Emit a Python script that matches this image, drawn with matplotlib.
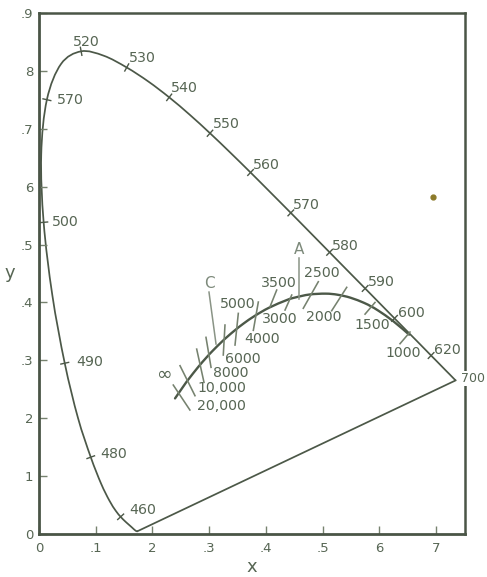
import numpy as np
import matplotlib
matplotlib.use("Agg")
import matplotlib.pyplot as plt
from matplotlib.path import Path
from matplotlib.patches import PathPatch

# ---- spectral locus (CIE 1931 x, y) ----
spec_nm = [380, 385, 390, 395, 400, 405, 410, 415, 420, 425, 430, 435, 440, 445, 450, 455,
           460, 465, 470, 475, 480, 485, 490, 495, 500, 505, 510, 515, 520, 525, 530, 535,
           540, 545, 550, 555, 560, 565, 570, 575, 580, 585, 590, 595, 600, 605, 610, 615,
           620, 625, 630, 635, 640, 645, 650, 655, 660, 665, 670, 675, 680, 685, 690, 695, 700]
spec_x = [0.1741, 0.1740, 0.1738, 0.1736, 0.1733, 0.1730, 0.1726, 0.1721, 0.1714, 0.1703, 0.1689,
          0.1669, 0.1644, 0.1611, 0.1566, 0.1510, 0.1440, 0.1355, 0.1241, 0.1096, 0.0913, 0.0687,
          0.0454, 0.0235, 0.0082, 0.0039, 0.0139, 0.0389, 0.0743, 0.1142, 0.1547, 0.1929, 0.2296,
          0.2658, 0.3016, 0.3373, 0.3731, 0.4087, 0.4441, 0.4788, 0.5125, 0.5448, 0.5752, 0.6029,
          0.6270, 0.6482, 0.6658, 0.6801, 0.6915, 0.7006, 0.7079, 0.7140, 0.7190, 0.7230, 0.7260,
          0.7283, 0.7300, 0.7311, 0.7320, 0.7327, 0.7334, 0.7340, 0.7344, 0.7346, 0.7347]
spec_y = [0.0050, 0.0050, 0.0049, 0.0049, 0.0048, 0.0048, 0.0048, 0.0048, 0.0051, 0.0058, 0.0069,
          0.0086, 0.0109, 0.0138, 0.0177, 0.0227, 0.0297, 0.0399, 0.0578, 0.0868, 0.1327, 0.2007,
          0.2950, 0.4127, 0.5384, 0.6548, 0.7502, 0.8120, 0.8338, 0.8262, 0.8059, 0.7816, 0.7543,
          0.7243, 0.6923, 0.6589, 0.6245, 0.5896, 0.5547, 0.5202, 0.4866, 0.4544, 0.4242, 0.3965,
          0.3725, 0.3514, 0.3340, 0.3197, 0.3083, 0.2993, 0.2920, 0.2859, 0.2809, 0.2770, 0.2740,
          0.2717, 0.2700, 0.2689, 0.2680, 0.2673, 0.2666, 0.2660, 0.2656, 0.2654, 0.2653]

# wavelengths that carry a tick on the locus
tick_nm = [460, 480, 490, 500, 510, 520, 530, 540, 550, 560, 570, 580, 590, 600, 620]

# wavelength labels (as printed) and their positions
wl_text = ["460", "480", "490", "500", "570", "520", "530", "540", "550", "560",
           "570", "580", "590", "600", "620", "700"]
wl_lx = [0.159, 0.108, 0.065, 0.023, 0.032, 0.060, 0.159, 0.233, 0.307, 0.377,
         0.448, 0.517, 0.580, 0.633, 0.697, 0.744]
wl_ly = [0.041, 0.138, 0.297, 0.539, 0.750, 0.850, 0.822, 0.770, 0.708, 0.637,
         0.568, 0.497, 0.435, 0.382, 0.318, 0.269]

# ---- Planckian (black-body) locus ----
bb_T = [1000, 1200, 1400, 1500, 1600, 1800, 2000, 2200, 2500, 2800, 3000, 3500, 4000,
        4500, 5000, 5500, 6000, 7000, 8000, 10000, 15000, 20000, "inf"]
bb_x = [0.6528, 0.6251, 0.5985, 0.5857, 0.5732, 0.5493, 0.5267, 0.5056, 0.4770, 0.4520,
        0.4369, 0.4053, 0.3805, 0.3608, 0.3451, 0.3325, 0.3221, 0.3064, 0.2952, 0.2807,
        0.2637, 0.2565, 0.2399]
bb_y = [0.3444, 0.3674, 0.3858, 0.3931, 0.3993, 0.4082, 0.4133, 0.4152, 0.4137, 0.4086,
        0.4041, 0.3907, 0.3768, 0.3636, 0.3516, 0.3411, 0.3318, 0.3166, 0.3048, 0.2884,
        0.2673, 0.2577, 0.2342]

# isotemperature tick segments (start x, start y, end x, end y)
iso_x0 = [0.2368, 0.2487, 0.2781, 0.2945, 0.3280, 0.3515, 0.3868, 0.4192, 0.4457, 0.4926, 0.5427, 0.5926, 0.6543]
iso_y0 = [0.2573, 0.2907, 0.3194, 0.3397, 0.3610, 0.3811, 0.4007, 0.4214, 0.4128, 0.4358, 0.4261, 0.4000, 0.3489]
iso_x1 = [0.2661, 0.2751, 0.2910, 0.3034, 0.3250, 0.3457, 0.3780, 0.4074, 0.4339, 0.4661, 0.5162, 0.5750, 0.6367]
iso_y1 = [0.2142, 0.2389, 0.2619, 0.2879, 0.3092, 0.3264, 0.3518, 0.3925, 0.3869, 0.3899, 0.3857, 0.3798, 0.3287]

# temperature labels
t_text = ["\u221e", "20,000", "10,000", "8000", "6000", "5000", "4000", "3000", "3500",
          "2500", "2000", "1500", "1000"]
t_lx = [0.208, 0.279, 0.280, 0.307, 0.328, 0.319, 0.362, 0.394, 0.392, 0.467, 0.471, 0.556, 0.611]
t_ly = [0.276, 0.221, 0.252, 0.278, 0.302, 0.397, 0.337, 0.371, 0.434, 0.451, 0.375, 0.361, 0.312]

# illuminant marker lines and labels
ill_text = ["A", "C"]
ill_x0 = [0.4591, 0.2998]
ill_y0 = [0.4767, 0.4179]
ill_x1 = [0.4591, 0.3122]
ill_y1 = [0.4059, 0.3282]
ill_lx = [0.459, 0.300]
ill_ly = [0.492, 0.432]

# stray dot in the print
dot_x = [0.695]
dot_y = [0.582]

# axis ticks
xt = [0.0, 0.1, 0.2, 0.3, 0.4, 0.5, 0.6, 0.7]
xt_lab = ["0", ".1", "2", ".3", ".4", ".5", "6", "7"]
yt = [0.0, 0.1, 0.2, 0.3, 0.4, 0.5, 0.6, 0.7, 0.8, 0.9]
yt_lab = ["0", "1", "2", ".3", ".4", ".5", "6", ".7", "8", ".9"]

LINE = "#4c5848"
TEXT = "#576654"
LIGHT = "#76826f"


def smooth_path(xs, ys):
    """Cubic Bezier path passing through every data point (Catmull-Rom tangents)."""
    P = np.column_stack([xs, ys]).astype(float)
    n = len(P)
    verts = [P[0]]
    codes = [Path.MOVETO]
    for i in range(n - 1):
        p0 = P[i - 1] if i > 0 else P[i]
        p1, p2 = P[i], P[i + 1]
        p3 = P[i + 2] if i + 2 < n else P[i + 1]
        c1 = p1 + (p2 - p0) / 6.0
        c2 = p2 - (p3 - p1) / 6.0
        verts += [c1, c2, p2]
        codes += [Path.CURVE4] * 3
    return Path(verts, codes)


plt.rcParams['font.family'] = ['DejaVu Sans']
fig = plt.figure(figsize=(4.87, 5.77), dpi=100)
fig.patch.set_facecolor("white")
ax = fig.add_axes([39 / 487, 43 / 577, 426 / 487, 521 / 577])
ax.set_xlim(0, 0.7513)
ax.set_ylim(0, 0.9)

# spectral locus + purple line
ax.add_patch(PathPatch(smooth_path(spec_x, spec_y), fill=False, edgecolor=LINE, lw=1.25,
                       joinstyle='round'))
ax.plot([spec_x[0], spec_x[-1]], [spec_y[0], spec_y[-1]], color=LINE, lw=1.25)

# wavelength ticks perpendicular to locus
sx = np.array(spec_x); sy = np.array(spec_y)
for nm in tick_nm:
    i = spec_nm.index(nm)
    dx = sx[i + 1] - sx[i - 1]; dy = sy[i + 1] - sy[i - 1]
    n = np.hypot(dx, dy)
    nx, ny = -dy / n, dx / n
    L = 0.007
    ax.plot([sx[i] - nx * L, sx[i] + nx * L], [sy[i] - ny * L, sy[i] + ny * L], color=LINE, lw=1.0)

LABEL_FS = 10.2
for t, x, y in zip(wl_text, wl_lx, wl_ly):
    kw = {}
    fs = LABEL_FS
    if t == "700":
        kw = dict(bbox=dict(facecolor="white", edgecolor="none", pad=0.5))
        fs = 9.0
    ax.text(x, y, t, ha="left", va="center", fontsize=fs, color=TEXT, clip_on=False,
            zorder=4, **kw)

# planckian locus
ax.add_patch(PathPatch(smooth_path(bb_x, bb_y), fill=False, edgecolor=LINE, lw=1.7,
                       capstyle='round'))
for a, b, c, d in zip(iso_x0, iso_y0, iso_x1, iso_y1):
    ax.plot([a, c], [b, d], color=LIGHT, lw=1.15)
for t, x, y in zip(t_text, t_lx, t_ly):
    fs = 13.5 if t == "\u221e" else LABEL_FS
    ax.text(x, y, t, ha="left", va="center", fontsize=fs, color=TEXT)

for t, a, b, c, d, lx, ly in zip(ill_text, ill_x0, ill_y0, ill_x1, ill_y1, ill_lx, ill_ly):
    ax.plot([a, c], [b, d], color="#8a9486", lw=1.1)
    ax.text(lx, ly, t, ha="center", va="center", fontsize=11, color="#7d8a7b")

ax.plot(dot_x, dot_y, 'o', color="#8c7a2a", ms=3.5)

# axes styling
ax.set_xticks(xt)
ax.set_xticklabels(xt_lab)
ax.set_yticks(yt)
ax.set_yticklabels(yt_lab)
ax.tick_params(direction="in", length=6, width=1, color=LIGHT, labelsize=9.5,
               labelcolor=TEXT, pad=6)
ax.tick_params(axis="y", pad=4)
for s in ["top", "right"]:
    ax.spines[s].set_linewidth(1.8)
for s in ["left", "bottom"]:
    ax.spines[s].set_linewidth(2.0)
for s in ax.spines.values():
    s.set_color("#4a5546")

ax.set_xlabel("x", fontsize=13, color=TEXT, labelpad=2)
ax.set_ylabel("y", fontsize=13, color=TEXT, rotation=0, labelpad=8, va="center")

fig.savefig("out.png", dpi=100, facecolor="white")
